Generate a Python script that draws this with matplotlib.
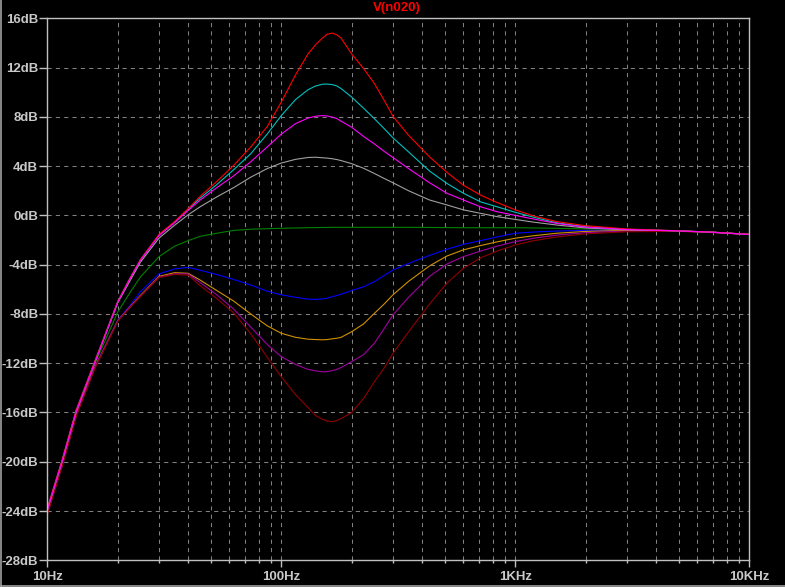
import matplotlib
matplotlib.use("Agg")
import matplotlib.pyplot as plt
from matplotlib.ticker import LogLocator, NullFormatter, FixedLocator
from matplotlib.lines import Line2D

# ---------------- data ----------------
freqs = [10, 11.6, 13.3, 16, 20, 22.5, 25, 30, 35, 40, 45, 53, 62.5, 74, 87, 100, 115, 130, 140,
         150, 157, 165, 173, 180, 200, 225, 250, 275, 300, 350, 430, 510, 600, 710, 835, 1000,
         1200, 1500, 2000, 3000, 5000, 7000, 10000]

red = [-23.8, -19.8, -15.8, -11.8, -7.0, -5.15, -3.6, -1.55, -0.5, 0.55, 1.55, 2.75, 4.05, 5.55, 7.2,
       9.2, 11.4, 13.1, 13.85, 14.4, 14.7, 14.8, 14.65, 14.4, 13.1, 11.9, 10.7, 9.35, 8.05, 6.5,
       4.75, 3.5, 2.45, 1.65, 1.05, 0.45, -0.05, -0.5, -0.84, -1.1, -1.25, -1.36, -1.53]
cyan = [-23.8, -19.8, -15.8, -11.8, -7.0, -5.15, -3.6, -1.6, -0.55, 0.5, 1.4, 2.5, 3.7, 5.0, 6.6,
        8.1, 9.4, 10.2, 10.5, 10.65, 10.66, 10.62, 10.5, 10.3, 9.6, 8.69, 7.85, 7.05, 6.3, 5.15,
        3.6, 2.6, 1.8, 1.1, 0.7, 0.25, -0.15, -0.6, -0.92, -1.13, -1.25, -1.36, -1.54]
magenta = [-23.9, -19.9, -15.9, -11.9, -7.05, -5.2, -3.65, -1.65, -0.6, 0.4, 1.25, 2.25, 3.2, 4.35,
           5.55, 6.6, 7.45, 7.9, 8.05, 8.1, 8.07, 7.98, 7.85, 7.65, 7.15, 6.4, 5.8, 5.2, 4.7, 3.8,
           2.65, 1.8, 1.25, 0.7, 0.3, 0.0, -0.3, -0.65, -0.96, -1.15, -1.26, -1.37, -1.55]
gray = [-23.9, -19.9, -15.9, -11.9, -7.1, -5.35, -3.8, -1.85, -0.8, 0.05, 0.7, 1.5, 2.25, 3.1, 3.8,
        4.25, 4.55, 4.7, 4.72, 4.68, 4.65, 4.6, 4.53, 4.45, 4.2, 3.82, 3.4, 3.0, 2.65, 2.0,
        1.25, 0.85, 0.45, 0.17, -0.1, -0.33, -0.55, -0.78, -1.02, -1.17, -1.26, -1.37, -1.55]
green = [-24.0, -20.0, -16.0, -12.0, -7.85, -6.3, -5.0, -3.35, -2.5, -2.05, -1.7, -1.45, -1.22,
         -1.12, -1.08, -1.05, -1.02, -1.0, -0.99, -0.98, -0.98, -0.97, -0.97, -0.97, -0.97,
         -0.97, -0.97, -0.97, -0.97, -0.97, -0.98, -0.99, -1.0, -1.0, -1.0, -1.0, -1.02, -1.05,
         -1.1, -1.16, -1.26, -1.37, -1.55]
blue = [-24.2, -20.2, -16.2, -12.3, -8.5, -7.35, -6.2, -4.75, -4.35, -4.22, -4.45, -4.8, -5.2,
        -5.65, -6.15, -6.45, -6.65, -6.8, -6.82, -6.78, -6.72, -6.6, -6.5, -6.4, -6.1, -5.79,
        -5.38, -4.88, -4.43, -3.9, -3.25, -2.75, -2.35, -2.05, -1.75, -1.45, -1.35, -1.27, -1.22,
        -1.2, -1.27, -1.38, -1.55]
orange = [-24.2, -20.2, -16.2, -12.3, -8.55, -7.45, -6.5, -4.95, -4.65, -4.7, -5.25, -6.1, -6.95,
          -8.0, -8.96, -9.57, -9.9, -10.05, -10.08, -10.1, -10.08, -10.02, -9.97, -9.9, -9.44,
          -8.8, -7.95, -7.2, -6.45, -5.35, -4.1, -3.3, -2.8, -2.45, -2.15, -1.85, -1.65, -1.45,
          -1.3, -1.22, -1.27, -1.38, -1.55]
purple = [-24.2, -20.2, -16.2, -12.3, -8.55, -7.45, -6.55, -5.0, -4.75, -4.75, -5.45, -6.45, -7.6,
          -9.06, -10.47, -11.47, -12.1, -12.5, -12.62, -12.7, -12.68, -12.6, -12.5, -12.35,
          -11.87, -11.3, -10.38, -9.2, -8.08, -6.65, -4.95, -3.95, -3.35, -2.9, -2.5, -2.13,
          -1.85, -1.6, -1.4, -1.27, -1.28, -1.38, -1.55]
darkred = [-24.3, -20.3, -16.3, -12.4, -8.6, -7.5, -6.6, -5.05, -4.8, -4.85, -5.7, -6.75, -7.9,
           -9.6, -11.5, -13.1, -14.55, -15.6, -16.25, -16.55, -16.7, -16.74, -16.65, -16.5, -16.0,
           -14.85, -13.5, -12.4, -11.2, -9.45, -7.2, -5.5, -4.3, -3.45, -2.9, -2.4, -2.05, -1.75,
           -1.5, -1.33, -1.3, -1.4, -1.55]

series = [
    (green, "#008000"),
    (blue, "#0000ff"),
    (orange, "#d09000"),
    (purple, "#a000a0"),
    (darkred, "#900000"),
    (gray, "#a0a0a0"),
    (cyan, "#00c0c0"),
    (red, "#ff0000"),
    (magenta, "#ff00ff"),
]

x_ticks = [10, 100, 1000, 10000]
x_tick_labels = ["10Hz", "100Hz", "1KHz", "10KHz"]
y_ticks = [16, 12, 8, 4, 0, -4, -8, -12, -16, -20, -24, -28]
y_tick_labels = ["16dB", "12dB", "8dB", "4dB", "0dB", "-4dB", "-8dB", "-12dB", "-16dB",
                 "-20dB", "-24dB", "-28dB"]
title = "V(n020)"

# ---------------- figure ----------------
W, H = 785, 587
fig = plt.figure(figsize=(W / 100, H / 100), dpi=100, facecolor="black")
left, right, top, bottom = 47.3, 749.3, 18.3, 560.3
ax = fig.add_axes([left / W, 1 - bottom / H, (right - left) / W, (bottom - top) / H])
ax.set_facecolor("black")

ax.set_xscale("log")
ax.set_xlim(10, 10000)
ax.set_ylim(-28, 16)

grid_kw = dict(color="#808080", linewidth=0.75, linestyle=(0, (4, 4)))
ax.xaxis.set_major_locator(FixedLocator(x_ticks))
ax.xaxis.set_minor_locator(LogLocator(base=10, subs=[2, 3, 4, 5, 6, 7, 8, 9]))
ax.xaxis.set_minor_formatter(NullFormatter())
ax.set_xticks(x_ticks)
ax.set_xticklabels(x_tick_labels)
ax.set_yticks(y_ticks)
ax.set_yticklabels(y_tick_labels)
ax.grid(True, which="both", axis="x", **grid_kw)
ax.grid(True, which="major", axis="y", **grid_kw)
ax.set_axisbelow(True)

for sp in ax.spines.values():
    sp.set_color("#c0c0c0")
    sp.set_linewidth(1.0)

tick_font = dict(family="Liberation Sans", weight="bold", size=9.5)
ax.tick_params(axis="x", which="major", direction="out", length=5, width=1, color="#c0c0c0",
               pad=2.5, labelcolor="#c8c8c8")
ax.tick_params(axis="x", which="minor", direction="out", length=2.2, width=1, color="#c0c0c0")
ax.tick_params(axis="y", which="major", direction="out", length=5.8, width=1, color="#c0c0c0",
               pad=0.8, labelcolor="#c8c8c8")
ax.tick_params(axis="y", which="minor", length=0)
for lab in ax.get_xticklabels() + ax.get_yticklabels():
    lab.set_fontfamily(tick_font["family"])
    lab.set_fontweight(tick_font["weight"])
    lab.set_fontsize(tick_font["size"])

for vals, col in series:
    ax.plot(freqs, vals, color=col, linewidth=0.8, solid_joinstyle="round")

fig.text(396.5 / W, 1 - 8.5 / H, title, color="#ff0000", ha="center", va="center",
         family="Liberation Sans", weight="bold", fontsize=9.5)

# window border remnants
fig.add_artist(Line2D([0.6 / W, 0.6 / W], [0, 1], transform=fig.transFigure, color="#a0a0a0", lw=1.2))
fig.add_artist(Line2D([0, 1], [0.6 / H, 0.6 / H], transform=fig.transFigure, color="#a0a0a0", lw=1.2))

fig.savefig("out.png", dpi=100, facecolor="black")
